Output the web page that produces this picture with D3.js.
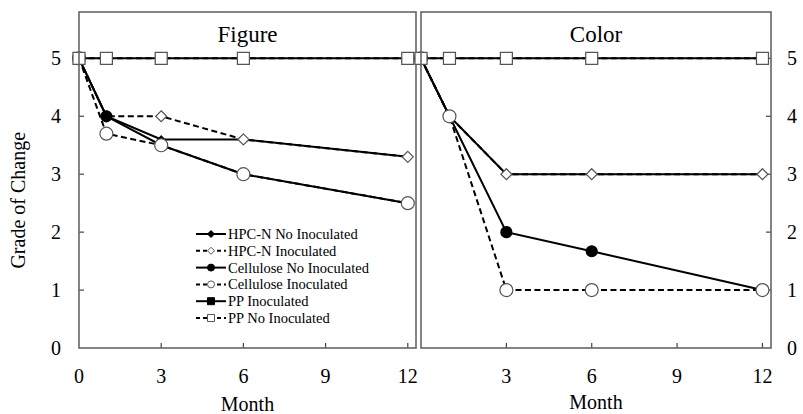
<!DOCTYPE html>
<html>
<head>
<meta charset="utf-8">
<script src="https://cdn.jsdelivr.net/npm/d3@7"></script>
<style>
body { margin: 0; background: #fff; }
svg { display: block; font-family: "Liberation Serif", "Times New Roman", serif; }
</style>
</head>
<body>
<div id="chart"></div>
<script>
"use strict";

var months = [0, 1, 3, 6, 12];
var xTicks = [0, 3, 6, 9, 12];
var yTicks = [0, 1, 2, 3, 4, 5];
var seriesNames = [
    "HPC-N No Inoculated",
    "HPC-N Inoculated",
    "Cellulose No Inoculated",
    "Cellulose Inoculated",
    "PP Inoculated",
    "PP No Inoculated"
];
// grade of change per month, one row per series
var figureValues = [
    [5, 4, 3.6, 3.6, 3.3],
    [5, 4, 4, 3.6, 3.3],
    [5, 4, 3.5, 3, 2.5],
    [5, 3.7, 3.5, 3, 2.5],
    [5, 5, 5, 5, 5],
    [5, 5, 5, 5, 5]
];
var colorValues = [
    [5, 4, 3, 3, 3],
    [5, 4, 3, 3, 3],
    [5, 4, 2, 1.67, 1],
    [5, 4, 1, 1, 1],
    [5, 5, 5, 5, 5],
    [5, 5, 5, 5, 5]
];

var styles = [
    { dash: null, shape: "diamond", fill: "#000", size: 3.5 },
    { dash: "6,3.5", shape: "diamond", fill: "#fff", size: 5.5 },
    { dash: null, shape: "circle", fill: "#000", size: 5.5 },
    { dash: "6,3.5", shape: "circle", fill: "#fff", size: 6.5 },
    { dash: null, shape: "square", fill: "#000", size: 5.5 },
    { dash: "6,3.5", shape: "square", fill: "#fff", size: 6 }
];

function markerPath(shape, r) {
    if (shape === "circle") {
        var p = d3.path();
        p.arc(0, 0, r, 0, 2 * Math.PI);
        return p.toString();
    }
    if (shape === "diamond") {
        return "M0," + (-r) + "L" + r + ",0L0," + r + "L" + (-r) + ",0Z";
    }
    return "M" + (-r) + "," + (-r) + "H" + r + "V" + r + "H" + (-r) + "Z";
}

var svg = d3.select("#chart").append("svg")
    .attr("width", 803)
    .attr("height", 414);

var plotTop = 12, plotBottom = 348;
var y = d3.scaleLinear().domain([0, 5.8]).range([plotBottom, plotTop]);

function drawPanel(opts) {
    var x = d3.scaleLinear().domain([0, 12.3]).range([opts.x0, opts.x1]);
    var g = svg.append("g");

    // tick labels along the bottom
    g.selectAll("text.xtick")
      .data(xTicks.filter(function (t) { return opts.showZero || t > 0; }))
      .enter().append("text")
        .attr("x", function (d) { return x(d); })
        .attr("y", 383)
        .attr("text-anchor", "middle")
        .style("font-size", "20px")
        .text(function (d) { return d; });
    g.selectAll("line.xtick")
      .data(xTicks.filter(function (t) { return t > 0; }))
      .enter().append("line")
        .attr("x1", function (d) { return x(d); })
        .attr("x2", function (d) { return x(d); })
        .attr("y1", plotBottom)
        .attr("y2", plotBottom - 5)
        .attr("stroke", "#444")
        .attr("stroke-width", 1.2);

    // y ticks, inside the box, labels on the outer side
    var edge = opts.axisSide === "left" ? opts.x0 : opts.x1;
    var dir = opts.axisSide === "left" ? 1 : -1;
    g.selectAll("line.ytick")
      .data(yTicks.filter(function (t) { return t > 0; }))
      .enter().append("line")
        .attr("x1", edge)
        .attr("x2", edge + dir * 5)
        .attr("y1", function (d) { return y(d); })
        .attr("y2", function (d) { return y(d); })
        .attr("stroke", "#444")
        .attr("stroke-width", 1.2);
    g.selectAll("text.ytick")
      .data(yTicks)
      .enter().append("text")
        .attr("x", opts.axisSide === "left" ? 61 : 787)
        .attr("y", function (d) { return y(d) + 7; })
        .attr("text-anchor", opts.axisSide === "left" ? "end" : "start")
        .style("font-size", "20px")
        .text(function (d) { return d; });

    g.append("text")
        .attr("x", (opts.x0 + opts.x1) / 2)
        .attr("y", 42)
        .attr("text-anchor", "middle")
        .style("font-size", "23px")
        .text(opts.title);
    g.append("text")
        .attr("x", (opts.x0 + opts.x1) / 2)
        .attr("y", opts.monthY)
        .attr("text-anchor", "middle")
        .style("font-size", "20px")
        .text("Month");

    var line = d3.line()
        .x(function (d, i) { return x(months[i]); })
        .y(function (d) { return y(d); });

    opts.values.forEach(function (vals, s) {
        var st = styles[s];
        g.append("path")
            .attr("d", line(vals))
            .attr("fill", "none")
            .attr("stroke", "#000")
            .attr("stroke-width", 2)
            .attr("stroke-dasharray", st.dash);
        g.selectAll("path.m" + s)
          .data(vals)
          .enter().append("path")
            .attr("class", "m" + s)
            .attr("d", markerPath(st.shape, st.size))
            .attr("transform", function (d, i) { return "translate(" + x(months[i]) + "," + y(d) + ")"; })
            .attr("fill", st.fill)
            .attr("stroke", st.fill === "#fff" ? "#555" : "#000")
            .attr("stroke-width", 1.2);
    });

    g.append("rect")
        .attr("x", opts.x0)
        .attr("y", plotTop)
        .attr("width", opts.x1 - opts.x0)
        .attr("height", plotBottom - plotTop)
        .attr("fill", "none")
        .attr("stroke", "#666")
        .attr("stroke-width", 1.6);
    return g;
}

var figurePanel = drawPanel({ x0: 79, x1: 416, title: "Figure", values: figureValues,
    axisSide: "left", showZero: true, monthY: 411 });
drawPanel({ x0: 421, x1: 771, title: "Color", values: colorValues,
    axisSide: "right", showZero: false, monthY: 409 });

svg.append("text")
    .attr("transform", "translate(25," + y(2.55) + ") rotate(-90)")
    .attr("text-anchor", "middle")
    .style("font-size", "20px")
    .text("Grade of Change");

// legend inside the Figure panel
var legend = figurePanel.append("g").attr("transform", "translate(196,234)");
var rows = legend.selectAll("g")
    .data(seriesNames)
    .enter().append("g")
    .attr("transform", function (d, i) { return "translate(0," + i * 16.8 + ")"; });
rows.append("line")
    .attr("x1", 0).attr("x2", 30)
    .attr("stroke", "#000")
    .attr("stroke-width", 2)
    .attr("stroke-dasharray", function (d, i) { return styles[i].dash ? "4,3" : null; });
rows.append("path")
    .attr("d", function (d, i) { return markerPath(styles[i].shape, 3.5); })
    .attr("transform", "translate(15,0)")
    .attr("fill", function (d, i) { return styles[i].fill; })
    .attr("stroke", function (d, i) { return styles[i].fill === "#fff" ? "#555" : "#000"; })
    .attr("stroke-width", 1);
rows.append("text")
    .attr("x", 32)
    .attr("y", 5)
    .style("font-size", "14.5px")
    .text(function (d) { return d; });
</script>
</body>
</html>
